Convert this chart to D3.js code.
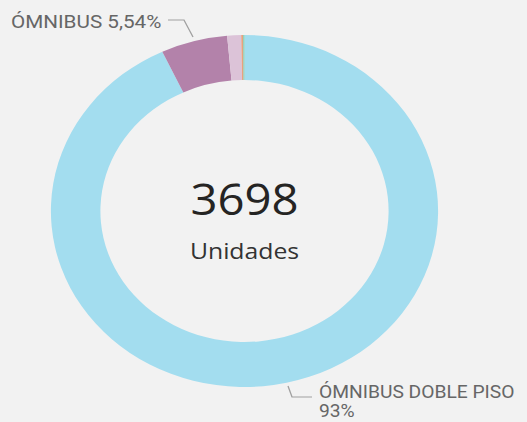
<!DOCTYPE html>
<html>
<head>
<meta charset="utf-8">
<script src="https://cdn.jsdelivr.net/npm/d3@7"></script>
<style>
  html, body { margin: 0; padding: 0; background: #F2F2F2; }
  svg { display: block; }
</style>
</head>
<body>
<svg id="chart" width="527" height="422"></svg>
<script>
// Fleet composition by vehicle type (units)
const categories = ["ÓMNIBUS DOBLE PISO", "ÓMNIBUS", "MINIBÚS", "MICROBÚS", "OTROS"];
const units = [3440, 205, 43, 6, 4];
const colors = ["#A3DDEF", "#B382AA", "#DCC3D8", "#E8A27E", "#7ECDB8"];
const totalLabel = "3698";
const totalCaption = "Unidades";
const labelText = ["ÓMNIBUS DOBLE PISO", "93%"];
const labelText2 = "ÓMNIBUS 5,54%";

const W = 527, H = 422;
const sx = 1.1;               // horizontal stretch of the whole drawing
const cx = 244.5 / sx, cy = 211;
const rOuter = 176, rInner = 131;

const svg = d3.select("#chart");
svg.append("rect").attr("width", W).attr("height", H).attr("fill", "#F2F2F2");

const root = svg.append("g").attr("transform", `scale(${sx},1)`);

const data = categories.map((c, i) => ({ name: c, value: units[i], color: colors[i] }));
const pie = d3.pie().value(d => d.value).sort(null);
const arc = d3.arc().innerRadius(rInner).outerRadius(rOuter);

const donut = root.append("g").attr("transform", `translate(${cx},${cy})`);
donut.selectAll("path")
  .data(pie(data))
  .join("path")
  .attr("d", arc)
  .attr("fill", d => d.data.color);

// Centre total
donut.append("text")
  .attr("x", 0).attr("y", 4)
  .attr("text-anchor", "middle")
  .attr("font-family", "'Open Sans', sans-serif")
  .attr("font-size", 43)
  .attr("font-weight", 500)
  .attr("fill", "#252423")
  .text(totalLabel);

donut.append("text")
  .attr("x", 0).attr("y", 48)
  .attr("text-anchor", "middle")
  .attr("font-family", "'Open Sans', sans-serif")
  .attr("font-size", 22.5)
  .attr("fill", "#333333")
  .text(totalCaption);

// Leader lines and category labels
const leader = d3.line();
root.append("path")
  .attr("d", leader([[168 / sx, 20], [184 / sx, 20], [193 / sx, 37]]))
  .attr("fill", "none").attr("stroke", "#A0A0A0").attr("stroke-width", 1.2);

root.append("text")
  .attr("x", 11 / sx).attr("y", 28)
  .attr("font-family", "Roboto, sans-serif")
  .attr("font-size", 18.8)
  .attr("fill", "#666666")
  .text(labelText2);

root.append("path")
  .attr("d", leader([[288 / sx, 386], [292 / sx, 397], [312 / sx, 397]]))
  .attr("fill", "none").attr("stroke", "#A0A0A0").attr("stroke-width", 1.2);

const lbl = root.append("text")
  .attr("font-family", "Roboto, sans-serif")
  .attr("font-size", 17.5)
  .attr("fill", "#666666");
lbl.append("tspan").attr("x", 319 / sx).attr("y", 398).text(labelText[0]);
lbl.append("tspan").attr("x", 319 / sx).attr("y", 417).text(labelText[1]);
</script>
</body>
</html>
